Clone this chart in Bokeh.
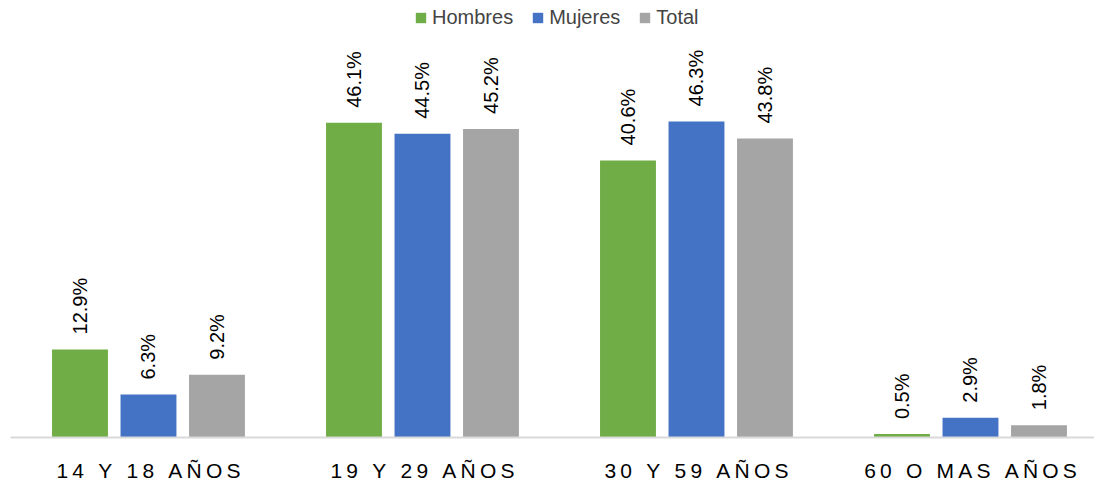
import math
from bokeh.plotting import figure
from bokeh.models import ColumnDataSource, FixedTicker, Legend, LegendItem
from bokeh.core.properties import value
from bokeh.transform import dodge
from bokeh.embed import file_html
from bokeh.resources import INLINE

categories = ["14 Y 18 AÑOS", "19 Y 29 AÑOS", "30 Y 59 AÑOS", "60 O MAS AÑOS"]
hombres = [12.9, 46.1, 40.6, 0.5]
mujeres = [6.3, 44.5, 46.3, 2.9]
total = [9.2, 45.2, 43.8, 1.8]
series_names = ["Hombres", "Mujeres", "Total"]
colors = ["#70AD47", "#4472C4", "#A5A5A5"]

FONT = "Liberation Sans"

xs = [i + 0.5 for i in range(len(categories))]
src = ColumnDataSource(dict(
    x=xs, Hombres=hombres, Mujeres=mujeres, Total=total,
    lH=[f"{v:.1f}%" for v in hombres],
    lM=[f"{v:.1f}%" for v in mujeres],
    lT=[f"{v:.1f}%" for v in total],
))

p = figure(frame_width=1084, frame_height=433, output_backend="svg",
           toolbar_location=None, x_range=(-0.0036, 3.9526), y_range=(0, 63.44),
           min_border_left=10, min_border_right=0, min_border_top=4, min_border_bottom=42)
p.outline_line_color = None
p.grid.visible = False
p.yaxis.visible = False

offsets = [-0.25, 0.0, 0.25]
lab_cols = ["lH", "lM", "lT"]
items = []
for name, col, off, lc in zip(series_names, colors, offsets, lab_cols):
    r = p.vbar(x=dodge("x", off), top=name, width=0.204, source=src,
               fill_color=col, line_color=None)
    items.append(LegendItem(label=name, renderers=[r]))
    p.text(x=dodge("x", off), y=name, text=lc, source=src, angle=math.pi / 2,
           text_align="left", text_baseline="middle", y_offset=-15,
           text_font=value(FONT), text_font_size="20px", text_color="#000000")

legend = Legend(items=items, orientation="horizontal", location=(404, 408),
                label_text_font=FONT, label_text_font_size="20px",
                glyph_width=13, glyph_height=13, spacing=18, label_standoff=5,
                padding=0, margin=0, border_line_color=None,
                background_fill_alpha=0)
p.add_layout(legend)

spaced = ["\u2009".join(list(c)) for c in categories]
p.xaxis.ticker = FixedTicker(ticks=xs)
p.xaxis.major_label_overrides = {x: s for x, s in zip(xs, spaced)}
p.xaxis.major_tick_line_color = None
p.xaxis.minor_tick_line_color = None
p.xaxis.axis_line_color = "#D9D9D9"
p.xaxis.axis_line_width = 2
p.xaxis.major_label_text_font = FONT
p.xaxis.major_label_text_font_size = "21px"
p.xaxis.major_label_text_color = "#000000"
p.xaxis.major_label_standoff = 15

open("out.html", "w").write(file_html(p, INLINE))
